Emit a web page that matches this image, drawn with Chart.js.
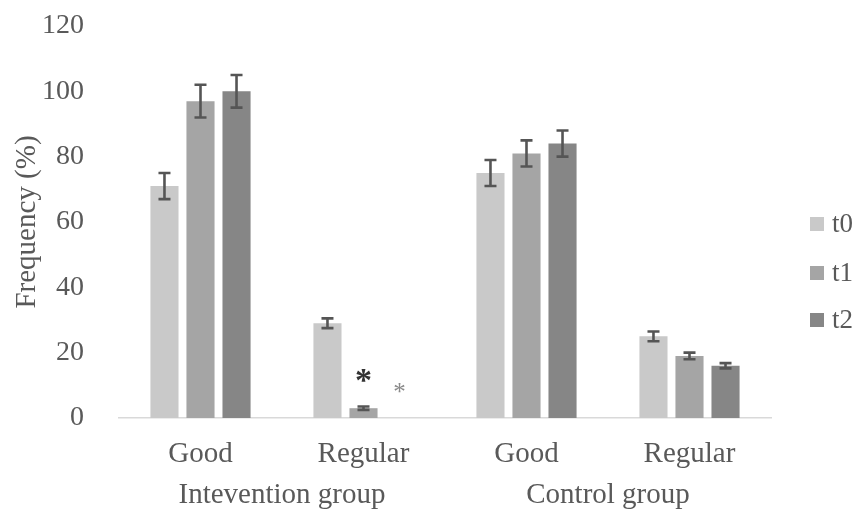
<!DOCTYPE html>
<html>
<head>
<meta charset="utf-8">
<script src="https://cdn.jsdelivr.net/npm/chart.js@4"></script>
<style>
html,body{margin:0;padding:0;background:#fff;}
#wrap{width:857px;height:509px;position:relative;}
</style>
</head>
<body>
<div id="wrap"><canvas id="c" width="857" height="509"></canvas></div>
<script>
const categories = ["Good", "Regular", "Good", "Regular"];
const groups = ["Intevention group", "Control group"];
const seriesNames = ["t0", "t1", "t2"];
const t0 = [71, 29, 75, 25];
const t1 = [97, 3, 81, 19];
const t2 = [100, 0, 84, 16];
const t0Err = [4, 1.5, 4, 1.5];
const t1Err = [5, 0.5, 4, 1];
const t2Err = [5, 0, 4, 0.8];
const colors = ["#c9c9c9", "#a5a5a5", "#868686"];
// significance markers: [seriesIndex, categoryIndex, yValue]
const stars = [[1, 1, 13], [2, 1, 9]];
const yTicks = [0, 20, 40, 60, 80, 100, 120];

const FONT = "'Liberation Serif', 'Times New Roman', serif";
const TXT = "#595959";

const errs = [t0Err, t1Err, t2Err];

const overlay = {
  id: 'overlay',
  afterDatasetsDraw(chart) {
    const ctx = chart.ctx;
    const y = chart.scales.y;
    ctx.save();
    ctx.strokeStyle = "#555555";
    ctx.lineWidth = 2.6;
    chart.data.datasets.forEach((ds, di) => {
      const meta = chart.getDatasetMeta(di);
      meta.data.forEach((bar, i) => {
        const e = errs[di][i];
        if (!e) return;
        const v = ds.data[i];
        const yt = y.getPixelForValue(v + e);
        const yb = y.getPixelForValue(v - e);
        const x = bar.x;
        const cap = 6;
        ctx.beginPath();
        ctx.moveTo(x, yt); ctx.lineTo(x, yb);
        ctx.moveTo(x - cap, yt); ctx.lineTo(x + cap, yt);
        ctx.moveTo(x - cap, yb); ctx.lineTo(x + cap, yb);
        ctx.stroke();
      });
    });
    // significance stars
    stars.forEach(([di, ci, val]) => {
      const bar = chart.getDatasetMeta(di).data[ci];
      const big = di === 1;
      const fs = big ? 34 : 25;
      ctx.fillStyle = big ? "#333333" : "#8a8a8a";
      ctx.font = (big ? "bold " : "") + fs + "px " + FONT;
      ctx.textAlign = "center";
      ctx.textBaseline = "middle";
      ctx.fillText("*", bar.x, y.getPixelForValue(val) + fs * 0.2);
    });
    // group labels
    const x = chart.scales.x;
    ctx.fillStyle = TXT;
    ctx.font = "29px " + FONT;
    ctx.textAlign = "center";
    ctx.textBaseline = "middle";
    groups.forEach((g, gi) => {
      const cx = (x.getPixelForValue(gi * 2) + x.getPixelForValue(gi * 2 + 1)) / 2;
      ctx.fillText(g, cx, 495);
    });
    // legend
    const lx = 810, ly = [224, 273, 320];
    ctx.font = "27px " + FONT;
    chart.data.datasets.forEach((ds, di) => {
      ctx.fillStyle = ds.backgroundColor;
      ctx.fillRect(lx, ly[di] - 7, 14, 14);
      ctx.fillStyle = TXT;
      ctx.textAlign = "left";
      ctx.fillText(ds.label, lx + 22, ly[di] + 1);
    });
    ctx.restore();
  }
};

new Chart(document.getElementById('c'), {
  type: 'bar',
  data: {
    labels: categories,
    datasets: [
      { label: seriesNames[0], data: t0, backgroundColor: colors[0] },
      { label: seriesNames[1], data: t1, backgroundColor: colors[1] },
      { label: seriesNames[2], data: t2, backgroundColor: colors[2] }
    ]
  },
  options: {
    responsive: false,
    animation: false,
    devicePixelRatio: 1,
    layout: { padding: { left: 0, right: 86, top: 26, bottom: 0 } },
    plugins: { legend: { display: false }, tooltip: { enabled: false } },
    datasets: { bar: { categoryPercentage: 0.663, barPercentage: 0.78 } },
    scales: {
      x: {
        grid: { display: false },
        border: { display: true, color: "#d9d9d9", width: 1.5 },
        ticks: { color: TXT, font: { family: FONT, size: 29 }, padding: 11 },
        afterFit(s) { s.height = 91; s.paddingLeft = 0; s.paddingRight = 0; }
      },
      y: {
        min: 0, max: 120,
        afterBuildTicks(s) { s.ticks = yTicks.map(v => ({ value: v })); },
        grid: { display: false },
        border: { display: false },
        ticks: { color: TXT, font: { family: FONT, size: 28 }, padding: 27 },
        title: { display: true, text: "Frequency (%)", color: TXT, font: { family: FONT, size: 29, lineHeight: 1.862 }, padding: 0 },
        afterFit(s) { s.width = 119; s.paddingTop = 0; s.paddingBottom = 0; }
      }
    }
  },
  plugins: [overlay]
});
</script>
</body>
</html>
